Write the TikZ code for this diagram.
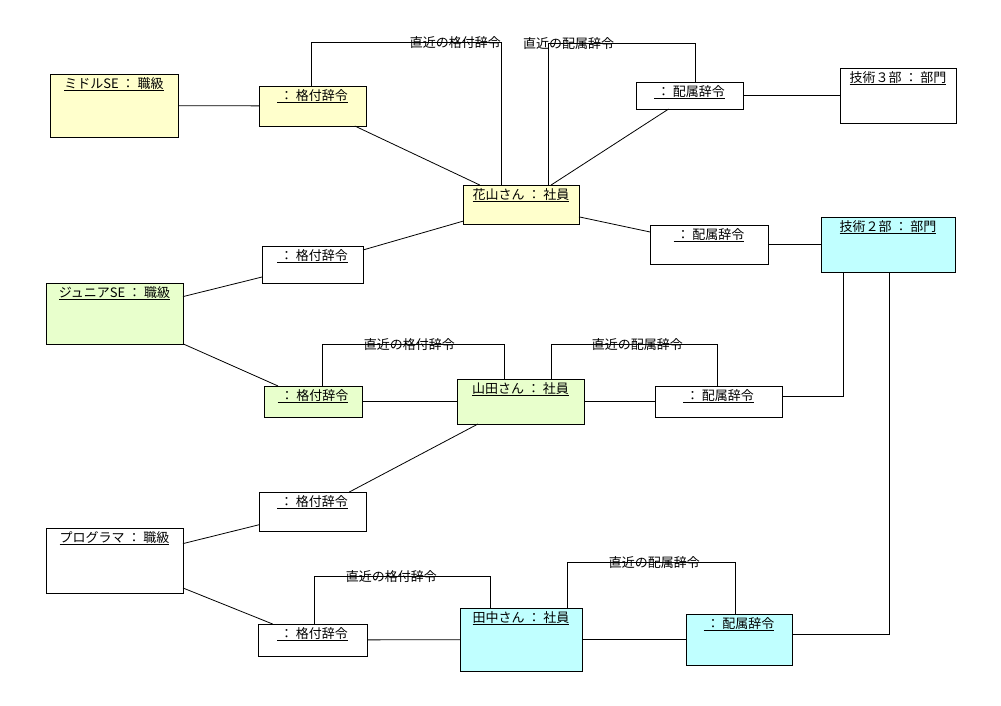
\documentclass[tikz,border=0pt]{standalone}
\usepackage{fontspec}
\setmainfont{Noto Sans CJK JP}
\usetikzlibrary{positioning,calc}
\definecolor{rankyellow}{HTML}{FFFFCC}
\definecolor{rankgreen}{HTML}{E8FFCC}
\definecolor{deptcyan}{HTML}{C0FFFF}

\begin{document}
\begin{tikzpicture}[x=1pt, y=-1pt,
  obj/.style={rectangle, draw, line width=0.9pt, anchor=north west, inner sep=0pt, outer sep=0pt},
  title/.style={anchor=north, inner sep=0pt, yshift=-3pt, font=\fontsize{13}{15}\selectfont},
  assoc/.style={inner sep=0pt, yshift=-1pt, font=\fontsize{13}{15}\selectfont},
  link/.style={line width=0.8pt}
]
  \useasboundingbox (0,0) rectangle (1001,705);

  % objects
  \node[obj, fill=rankyellow, minimum width=128pt, minimum height=63pt, label={[title]north:\underline{ミドルSE ： 職級}}] (midse) at (50,74) {};
  \node[obj, fill=rankyellow, minimum width=107pt, minimum height=40pt, label={[title]north:\underline{\ ： 格付辞令}}] (grade1) at (259,86) {};
  \node[obj, fill=white, minimum width=107pt, minimum height=27pt, label={[title]north:\underline{\ ： 配属辞令}}] (assign1) at (636,82) {};
  \node[obj, fill=white, minimum width=116pt, minimum height=55pt, label={[title]north:\underline{技術３部 ： 部門}}] (dept3) at (840,68) {};
  \node[obj, fill=rankyellow, minimum width=116pt, minimum height=39pt, label={[title]north:\underline{花山さん ： 社員}}] (hanayama) at (463,185) {};
  \node[obj, fill=white, minimum width=118pt, minimum height=39pt, label={[title]north:\underline{\ ： 配属辞令}}] (assign2) at (650,225) {};
  \node[obj, fill=deptcyan, minimum width=134pt, minimum height=55pt, label={[title]north:\underline{技術２部 ： 部門}}] (dept2) at (821,217) {};
  \node[obj, fill=white, minimum width=101pt, minimum height=37pt, label={[title]north:\underline{\ ： 格付辞令}}] (grade2) at (262,246) {};
  \node[obj, fill=rankgreen, minimum width=137pt, minimum height=61pt, label={[title]north:\underline{ジュニアSE ： 職級}}] (juniorse) at (46,283) {};
  \node[obj, fill=rankgreen, minimum width=98pt, minimum height=31pt, label={[title]north:\underline{\ ： 格付辞令}}] (grade3) at (264,386) {};
  \node[obj, fill=rankgreen, minimum width=127pt, minimum height=45pt, label={[title]north:\underline{山田さん ： 社員}}] (yamada) at (457,379) {};
  \node[obj, fill=white, minimum width=127pt, minimum height=31pt, label={[title]north:\underline{\ ： 配属辞令}}] (assign3) at (655,386) {};
  \node[obj, fill=white, minimum width=107pt, minimum height=39pt, label={[title]north:\underline{\ ： 格付辞令}}] (grade4) at (259,492) {};
  \node[obj, fill=white, minimum width=137pt, minimum height=65pt, label={[title]north:\underline{プログラマ ： 職級}}] (programmer) at (46,528) {};
  \node[obj, fill=white, minimum width=109pt, minimum height=32pt, label={[title]north:\underline{\ ： 格付辞令}}] (grade5) at (258,624) {};
  \node[obj, fill=deptcyan, minimum width=122pt, minimum height=63pt, label={[title]north:\underline{田中さん ： 社員}}] (tanaka) at (460,608) {};
  \node[obj, fill=deptcyan, minimum width=106pt, minimum height=51pt, label={[title]north:\underline{\ ： 配属辞令}}] (assign4) at (686,614) {};

  % links
  \draw[link] (midse) -- (grade1);
  \draw[link] (grade1) -- (hanayama);
  \draw[link] (assign1) -- (hanayama);
  \draw[link] (assign1) -- (dept3);
  \draw[link] (hanayama) -- (grade2);
  \draw[link] (hanayama) -- (assign2);
  \draw[link] (assign2) -- (dept2);
  \draw[link] (grade2) -- (juniorse);
  \draw[link] (juniorse) -- (grade3);
  \draw[link] (grade3) -- (yamada);
  \draw[link] (yamada) -- (assign3);
  \draw[link] (yamada) -- (grade4);
  \draw[link] (grade4) -- (programmer);
  \draw[link] (programmer) -- (grade5);
  \draw[link] (grade5) -- (tanaka);
  \draw[link] (tanaka) -- (assign4);
  \draw[link] ([yshift=5pt]assign3.east) -| ([xshift=-45pt]dept2.south);
  \draw[link] ([xshift=1pt]dept2.south) |- ([yshift=5.5pt]assign4.east);

  % latest orders
  \draw[link] ([xshift=-1.5pt]grade1.north) -- ++(0,-44) -| node[assoc, pos=0.38] {直近の格付辞令} ([xshift=-20pt]hanayama.north);
  \draw[link] ([xshift=27pt]hanayama.north) -- ++(0,-142) -| node[assoc, pos=0.07] {直近の配属辞令} ([xshift=5.5pt]assign1.north);
  \draw[link] ([xshift=9pt]grade3.north) -- ++(0,-42) -| node[assoc, pos=0.24] {直近の格付辞令} ([xshift=-16.5pt]yamada.north);
  \draw[link] ([xshift=30.5pt]yamada.north) -- ++(0,-35) -| node[assoc, pos=0.26] {直近の配属辞令} ([xshift=-1.5pt]assign3.north);
  \draw[link] ([xshift=1.5pt]grade5.north) -- ++(0,-48) -| node[assoc, pos=0.22] {直近の格付辞令} ([xshift=-31pt]tanaka.north);
  \draw[link] ([xshift=46pt]tanaka.north) -- ++(0,-46) -| node[assoc, pos=0.26] {直近の配属辞令} ([xshift=-4pt]assign4.north);
\end{tikzpicture}
\end{document}
